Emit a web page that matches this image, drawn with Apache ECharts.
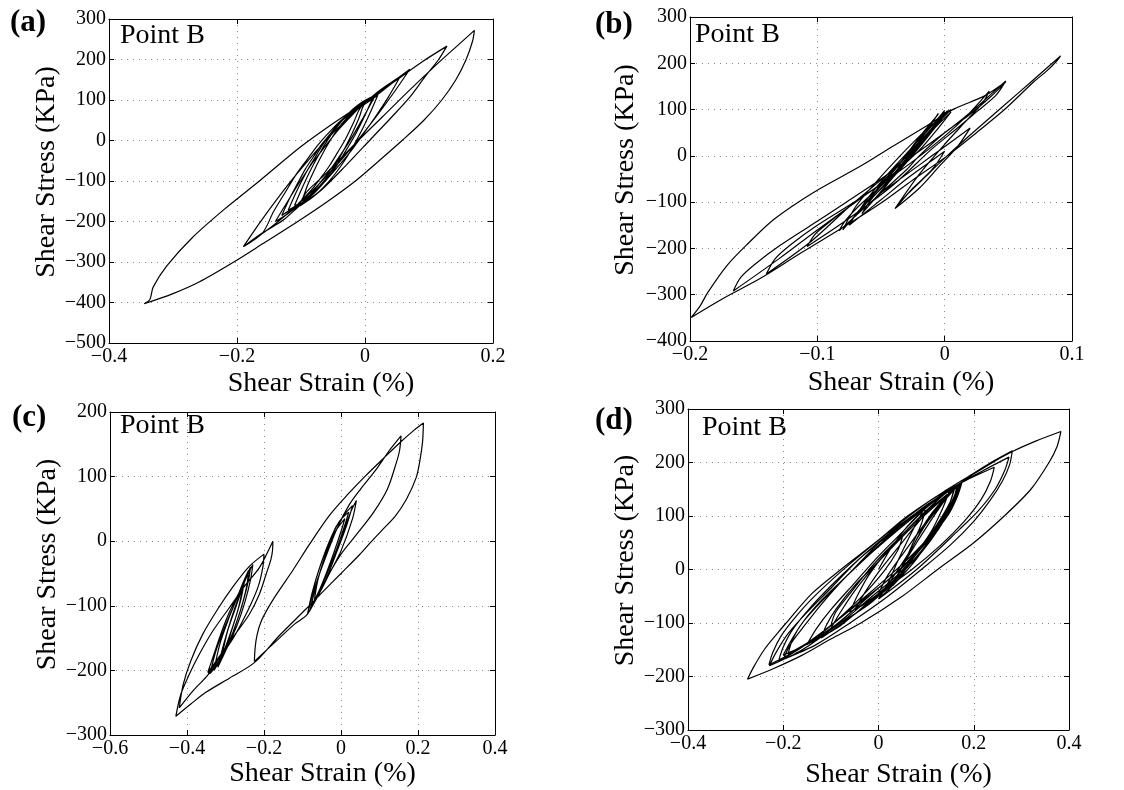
<!DOCTYPE html>
<html>
<head>
<meta charset="utf-8">
<script src="https://cdn.jsdelivr.net/npm/echarts@6/dist/echarts.min.js"></script>
<style>
html,body{margin:0;padding:0;background:#fff;}
#chart{width:1124px;height:790px;}
</style>
</head>
<body>
<div id="chart"></div>
<script>
// ---------------- data ----------------
const panelLabels = ['(a)', '(b)', '(c)', '(d)'];
const pointLabel = 'Point B';
const xTitle = 'Shear Strain (%)';
const yTitle = 'Shear Stress (KPa)';
const xLimits = [[-0.4, 0.2], [-0.2, 0.1], [-0.6, 0.4], [-0.4, 0.4]];
const xSteps = [0.2, 0.1, 0.2, 0.2];
const yLimits = [[-500, 300], [-400, 300], [-300, 200], [-300, 300]];
const ySteps = [100, 100, 100, 100];

// shear strain (%), shear stress (kPa) pairs read from the loops
const loopA = [
[-0.12,-172],
[-0.107,-126],[-0.094,-85],[-0.08,-47],[-0.067,-13],[-0.054,17],[-0.041,42],[-0.028,64],[-0.014,82],[-0.001,95],[0.012,105],
[-0.001,59],[-0.014,18],[-0.028,-20],[-0.041,-54],[-0.054,-84],[-0.067,-109],[-0.08,-131],[-0.094,-149],[-0.107,-162],[-0.12,-172],
[-0.1,-150],
[-0.09,-111],[-0.08,-76],[-0.07,-44],[-0.06,-15],[-0.05,11],[-0.04,34],[-0.03,53],[-0.02,69],[-0.01,82],[0.0,92],
[0.015,108],
[-0.003,56],[-0.02,9],[-0.038,-35],[-0.055,-74],[-0.073,-110],[-0.09,-142],[-0.108,-169],[-0.125,-193],[-0.143,-212],[-0.16,-228],
[-0.19,-262],
[-0.164,-202],[-0.138,-146],[-0.112,-93],[-0.086,-44],[-0.06,2],[-0.034,44],[-0.008,82],[0.018,117],[0.044,146],[0.07,176],
[0.044,116],[0.018,60],[-0.008,7],[-0.034,-42],[-0.06,-88],[-0.086,-130],[-0.112,-168],[-0.138,-203],[-0.164,-234],[-0.19,-262],
[-0.16,-228],
[-0.143,-176],[-0.125,-129],[-0.108,-85],[-0.09,-46],[-0.073,-10],[-0.055,22],[-0.038,49],[-0.02,73],[-0.003,92],[0.015,108],
[0.055,158],
[0.036,106],[0.016,58],[-0.004,13],[-0.023,-28],[-0.043,-66],[-0.062,-100],[-0.082,-130],[-0.101,-157],[-0.12,-180],[-0.14,-200],
[-0.12,-148],[-0.101,-100],[-0.082,-55],[-0.062,-14],[-0.043,24],[-0.023,58],[-0.004,88],[0.016,115],[0.036,138],[0.055,158],
[-0.005,85],
[-0.018,44],[-0.03,5],[-0.043,-30],[-0.055,-61],[-0.068,-90],[-0.08,-115],[-0.093,-138],[-0.105,-157],[-0.118,-172],[-0.13,-185],
[-0.118,-144],[-0.105,-105],[-0.093,-70],[-0.08,-39],[-0.068,-10],[-0.055,15],[-0.043,38],[-0.03,57],[-0.018,72],[-0.005,85],
[0.02,112],
[0.007,65],[-0.006,22],[-0.019,-16],[-0.032,-50],[-0.045,-79],[-0.058,-104],[-0.071,-125],[-0.084,-141],[-0.097,-153],[-0.11,-160],
[-0.097,-113],[-0.084,-70],[-0.071,-32],[-0.058,2],[-0.045,31],[-0.032,56],[-0.019,77],[-0.006,93],[0.007,105],[0.02,112],
[0.0,92],
[-0.01,53],[-0.02,18],[-0.03,-14],[-0.04,-43],[-0.05,-69],[-0.06,-92],[-0.07,-111],[-0.08,-127],[-0.09,-140],[-0.1,-150],
[-0.09,-125],[-0.06,-80],[-0.02,-15],[0.027,58],[0.07,125],[0.11,185],[0.145,235],[0.171,272],
[0.168,245],[0.158,200],[0.142,150],[0.12,100],[0.092,50],[0.058,0],[0.022,-50],[-0.015,-100],[-0.058,-150],[-0.105,-200],[-0.155,-250],[-0.205,-300],[-0.26,-350],[-0.3,-378],[-0.345,-403],
[-0.336,-392],[-0.331,-362],[-0.31,-310],[-0.27,-240],[-0.22,-170],[-0.165,-100],[-0.1,-15],[-0.05,42],[0.0,95],[0.05,150],[0.09,195],[0.128,233],
[0.115,200],[0.095,160],[0.069,105],[0.04,55],[0.01,5],[-0.03,-62],[-0.07,-125],[-0.1,-160],[-0.12,-172]
];

const loopB = [
[-0.04,-40],
[-0.03,-10],[-0.02,25],[-0.008,65],[0.002,97],
[-0.005,75],[-0.02,30],[-0.04,-30],[-0.06,-95],[-0.08,-160],
[-0.07,-110],[-0.055,-60],[-0.035,0],[-0.015,55],[0.005,100],
[-0.005,72],[-0.02,25],[-0.04,-38],[-0.07,-100],[-0.1,-160],[-0.13,-222],[-0.166,-292],
[-0.16,-262],[-0.148,-232],[-0.13,-195],[-0.105,-150],[-0.08,-105],[-0.05,-50],[-0.02,10],[0.005,60],[0.025,105],[0.048,162],
[0.04,130],[0.025,95],[0.01,60],[-0.01,15],[-0.04,-62],[-0.075,-135],[-0.108,-196],
[-0.102,-170],[-0.09,-142],[-0.07,-100],[-0.045,-50],[-0.02,12],[-0.005,60],[0.005,95],
[-0.005,68],[-0.02,25],[-0.045,-40],[-0.075,-110],[-0.105,-185],[-0.14,-255],
[-0.133,-222],[-0.12,-190],[-0.1,-150],[-0.07,-98],[-0.04,-42],[-0.01,20],[0.015,80],[0.035,140],
[0.03,115],[0.015,70],[0.0,25],[-0.02,-40],[-0.039,-114],
[-0.03,-85],[-0.015,-45],[0.0,-5],[0.02,45],[0.045,105],[0.07,165],[0.091,216],
[0.088,205],[0.08,183],[0.07,160],[0.047,100],[0.025,50],[0.002,0],[-0.025,-52],[-0.05,-102],[-0.08,-155],[-0.113,-210],[-0.145,-265],[-0.174,-308],[-0.199,-349],
[-0.192,-324],[-0.186,-295],[-0.171,-237],[-0.155,-191],[-0.134,-137],[-0.103,-79],[-0.066,-22],[-0.04,22],[-0.014,65],[0.007,101],[0.031,129],[0.048,160],
[0.035,125],[0.02,90],[0.0,50],[-0.02,0],[-0.03,-30],[-0.05,-80],[-0.083,-162],
[-0.078,-140],[-0.068,-110],[-0.05,-65],[-0.03,-10],[-0.012,50],[0.0,95],
[-0.01,60],[-0.025,10],[-0.04,-40],[-0.06,-100],
[-0.05,-60],[-0.035,-15],[-0.02,40],[-0.005,90],
[-0.015,55],[-0.03,0],[-0.05,-65],[-0.07,-130],
[-0.06,-90],[-0.045,-40],[-0.025,20],[-0.01,65],[0.0,98],
[-0.01,60],[-0.025,10],[-0.05,-80],
[-0.03,-40],[-0.01,0],[0.005,30],[0.02,60],
[0.01,20],[-0.005,-25],[-0.02,-70],[-0.039,-114],
[-0.025,-70],[-0.01,-30],[0.0,10],
[-0.01,-10],[-0.03,-50],[-0.05,-95],[-0.075,-150],
[-0.068,-120],[-0.055,-85],[-0.035,-30],[-0.015,35],[0.003,98],
[-0.008,65],[-0.02,20],[-0.04,-45],[-0.065,-125],
[-0.058,-95],[-0.045,-55],[-0.03,-5],[-0.015,50],[-0.005,92]
];

const loopC = [
[0.0,0],
[0.01,20],[0.025,45],[0.04,63],
[0.03,35],[0.0,-15],[-0.03,-50],[-0.06,-85],[-0.087,-113],
[-0.075,-80],[-0.055,-40],[-0.03,0],[-0.005,30],[0.02,45],
[0.01,25],[-0.01,-10],[-0.04,-55],[-0.08,-105],
[-0.065,-70],[-0.045,-30],[-0.02,10],[0.01,35],
[0.0,15],[-0.02,-20],[-0.045,-60],[-0.07,-95],
[-0.06,-60],[-0.04,-20],[-0.015,20],[0.01,42],[0.03,55],
[0.015,25],[-0.01,-15],[-0.04,-60],[-0.087,-113],
[-0.07,-75],[-0.04,-25],[-0.01,20],[0.02,55],[0.05,80],[0.09,110],[0.125,140],[0.156,163],
[0.152,140],[0.143,120],[0.12,80],[0.085,45],[0.04,10],[0.0,-20],[-0.04,-60],[-0.087,-113],
[-0.12,-128],[-0.16,-150],[-0.225,-186],
[-0.223,-165],[-0.218,-145],[-0.208,-125],[-0.19,-104],[-0.165,-80],[-0.125,-45],[-0.082,-5],[-0.03,40],[0.02,74],[0.065,102],[0.11,128],[0.152,152],[0.19,172],[0.214,183],
[0.212,155],[0.205,125],[0.195,98],[0.17,65],[0.14,38],[0.108,18],[0.075,-3],[0.048,-21],[0.0,-50],[-0.05,-80],[-0.091,-105],[-0.16,-146],[-0.225,-188],[-0.29,-212],[-0.351,-234],[-0.39,-252],[-0.429,-271],
[-0.416,-237],[-0.394,-206],[-0.368,-175],[-0.333,-139],[-0.29,-103],[-0.247,-67],[-0.212,-41],[-0.177,0],
[-0.178,-15],[-0.182,-28],[-0.195,-52],[-0.212,-82],[-0.238,-113],[-0.281,-149],[-0.325,-186],[-0.346,-203],
[-0.33,-175],[-0.31,-140],[-0.29,-110],[-0.265,-80],[-0.245,-55],[-0.229,-36],
[-0.235,-60],[-0.25,-95],[-0.27,-130],[-0.3,-170],[-0.33,-200],
[-0.315,-160],[-0.295,-125],[-0.275,-95],[-0.255,-65],[-0.24,-45],
[-0.245,-70],[-0.26,-105],[-0.28,-140],[-0.3,-170],[-0.32,-195],
[-0.305,-160],[-0.285,-120],[-0.265,-85],[-0.245,-55],[-0.235,-40],
[-0.24,-60],[-0.255,-95],[-0.28,-140],[-0.31,-180],[-0.34,-205],
[-0.325,-170],[-0.3,-130],[-0.275,-95],[-0.25,-60],
[-0.26,-90],[-0.28,-130],[-0.31,-180],
[-0.295,-140],[-0.275,-105],[-0.255,-70],
[-0.265,-100],[-0.285,-140],[-0.305,-175],
[-0.35,-210],[-0.385,-232],[-0.42,-258],
[-0.41,-222],[-0.39,-185],[-0.36,-145],[-0.32,-105],[-0.28,-70],[-0.24,-40],[-0.2,-20],
[-0.203,-40],[-0.215,-70],[-0.24,-105],[-0.28,-150],[-0.345,-205]
];

const loopD = [
[0.0,0],
[0.03,45],[0.07,90],[0.12,130],[0.17,160],
[0.155,125],[0.13,85],[0.09,35],[0.04,-15],[-0.02,-65],[-0.1,-110],
[-0.08,-80],[-0.05,-40],[0.0,15],[0.05,65],[0.1,110],[0.15,150],
[0.135,115],[0.11,70],[0.07,20],[0.02,-35],[-0.05,-75],
[-0.03,-45],[0.0,-5],[0.04,40],[0.09,95],[0.13,135],[0.17,158],
[0.16,130],[0.14,95],[0.1,45],[0.05,-5],[-0.02,-60],[-0.08,-105],[-0.15,-140],
[-0.13,-110],[-0.1,-75],[-0.05,-25],[0.0,25],[0.05,70],[0.1,115],[0.16,155],
[0.15,125],[0.12,80],[0.08,30],[0.04,-20],[0.0,-55],
[0.02,-25],[0.04,15],[0.07,70],[0.1,120],
[0.09,85],[0.07,45],[0.05,5],[0.02,-40],
[0.04,-10],[0.07,40],[0.1,85],[0.135,125],[0.17,160],
[0.15,120],[0.12,75],[0.08,20],[0.03,-30],
[0.05,5],[0.08,50],[0.12,105],[0.16,155],
[0.15,125],[0.13,90],[0.09,40],[0.04,-10],[-0.02,-55],[-0.08,-100],[-0.14,-135],[-0.2,-160],
[-0.185,-135],[-0.16,-100],[-0.12,-60],[-0.07,-15],[-0.01,40],[0.05,90],[0.11,130],[0.17,160],
[0.16,135],[0.14,100],[0.1,55],[0.05,5],[-0.02,-50],[-0.09,-105],[-0.16,-150],[-0.229,-180],
[-0.215,-155],[-0.19,-120],[-0.15,-80],[-0.1,-35],[-0.04,20],[0.03,70],[0.1,120],[0.17,160],[0.243,191],
[0.235,165],[0.215,130],[0.18,90],[0.13,45],[0.07,0],[0.0,-45],
[0.02,-10],[0.06,40],[0.11,100],[0.17,160],
[0.23,195],[0.28,220],[0.33,240],[0.383,258],
[0.375,230],[0.358,200],[0.32,150],[0.264,100],[0.2,50],[0.124,0],[0.05,-50],[-0.037,-100],[-0.1,-130],[-0.16,-160],[-0.22,-185],[-0.275,-205],
[-0.262,-182],[-0.24,-150],[-0.212,-119],[-0.194,-100],[-0.14,-45],[-0.079,0],[0.0,55],[0.061,100],[0.145,150],[0.2,180],[0.236,200],[0.281,222],
[0.275,195],[0.26,165],[0.235,130],[0.2,90],[0.15,45],[0.09,0],[0.02,-50],[-0.06,-100],[-0.13,-140],[-0.2,-168],
[-0.185,-140],[-0.16,-110],[-0.12,-65],[-0.07,-15],[0.0,45],[0.08,105],[0.16,155],[0.22,185],[0.274,210],
[0.265,185],[0.245,150],[0.21,110],[0.17,75],[0.08,0],[0.0,-55],
[0.03,-15],[0.07,40],[0.1,90],
[0.13,125],[0.17,160],
[0.16,135],[0.14,100],[0.1,55],[0.05,10],[-0.02,-45],[-0.1,-105],[-0.16,-145],[-0.21,-172],
[-0.2,-145],[-0.18,-112],[-0.14,-68],[-0.09,-22],[-0.03,28],[0.04,80],[0.11,125],[0.172,160],
[0.16,130],[0.135,90],[0.1,50],[0.05,5],[-0.02,-50],[-0.1,-110],[-0.19,-158],
[-0.18,-130],[-0.16,-100],[-0.12,-58],[-0.07,-15],[-0.01,35],[0.06,88],[0.12,130],[0.165,157],
[0.155,125],[0.13,85],[0.09,35],[0.04,-15],[-0.03,-70],[-0.12,-128],
[-0.11,-105],[-0.09,-75],[-0.05,-30],[0.0,15],[0.06,70],[0.12,120],[0.16,152],
[0.15,125],[0.12,80],[0.08,30],[0.03,-25],[-0.06,-80],
[-0.045,-50],[-0.02,-10],[0.015,30],[0.05,60],
[0.04,35],[0.01,-5],[-0.04,-55],[-0.1,-105],
[-0.09,-80],[-0.06,-45],[-0.01,10],[0.05,65],[0.11,115],[0.175,162],
[0.165,135],[0.145,100],[0.1,50],[0.04,-5],[-0.04,-62],[-0.12,-118],[-0.18,-155],[-0.23,-178],
[-0.222,-155],[-0.205,-125],[-0.18,-95],[-0.14,-55],[-0.08,-5],[-0.02,40],[0.05,90],[0.11,130],[0.17,160],
[0.16,130],[0.14,95],[0.11,55],[0.07,10]
];

const loops = [loopA, loopB, loopC, loopD];

// ---------------- layout ----------------
const FONT = '"Liberation Serif", "DejaVu Serif", serif';
const grids = [
  {left: 109, top: 19, width: 384, height: 324},
  {left: 690, top: 17, width: 382, height: 324},
  {left: 110, top: 412, width: 385, height: 323},
  {left: 688, top: 409, width: 381, height: 322}
];
const xNameGaps = [27, 28, 22, 31];
const yNameGaps = [46, 50, 47, 48];
const labelPos = [[10, 7], [595, 9], [12, 402], [595, 405]];
const pointPos = [[120, 22], [695, 21], [120, 412], [702, 414]];

function fmt(v) {
  const r = Math.round(v * 1000) / 1000;
  return r < 0 ? '\u2212' + String(-r) : String(r);
}

const xAxes = [], yAxes = [], series = [], graphics = [];
grids.forEach((g, i) => {
  const common = {
    gridIndex: i, type: 'value',
    axisLine: {show: true, onZero: false, lineStyle: {color: '#000', width: 1}},
    axisTick: {show: true, inside: true, length: 5, lineStyle: {color: '#000', width: 1}}
  };
  xAxes.push(Object.assign({}, common, {
    position: 'bottom', min: xLimits[i][0], max: xLimits[i][1], interval: xSteps[i],
    axisLabel: {color: '#000', fontFamily: FONT, fontSize: 20, margin: 4, formatter: fmt, showMinLabel: true, showMaxLabel: true},
    splitLine: {show: true, lineStyle: {color: '#8a8a8a', type: [1, 5], width: 1}},
    name: xTitle, nameLocation: 'middle', nameGap: xNameGaps[i],
    nameTextStyle: {fontFamily: FONT, fontSize: 28, color: '#000', padding: [0, 0, 0, 40]}
  }));
  xAxes.push(Object.assign({}, common, {
    position: 'top', min: xLimits[i][0], max: xLimits[i][1], interval: xSteps[i],
    axisLabel: {show: false}, splitLine: {show: false}
  }));
  yAxes.push(Object.assign({}, common, {
    position: 'left', min: yLimits[i][0], max: yLimits[i][1], interval: ySteps[i],
    axisLabel: {color: '#000', fontFamily: FONT, fontSize: 20, margin: 3, formatter: fmt, showMinLabel: true, showMaxLabel: true},
    splitLine: {show: true, lineStyle: {color: '#8a8a8a', type: [1, 5], width: 1}},
    name: yTitle, nameLocation: 'middle', nameGap: yNameGaps[i], nameRotate: 90,
    nameTextStyle: {fontFamily: FONT, fontSize: 28, color: '#000', padding: [0, 0, 0, 18]}
  }));
  yAxes.push(Object.assign({}, common, {
    position: 'right', min: yLimits[i][0], max: yLimits[i][1], interval: ySteps[i],
    axisLabel: {show: false}, splitLine: {show: false}
  }));
  series.push({
    type: 'line', xAxisIndex: 2 * i, yAxisIndex: 2 * i,
    data: loops[i], showSymbol: false, symbol: 'none', smooth: 0.3,
    lineStyle: {color: '#000', width: 1.2}, clip: true, animation: false
  });
  graphics.push({
    type: 'text', left: labelPos[i][0], top: labelPos[i][1],
    style: {text: panelLabels[i], font: 'bold 31px ' + FONT, fill: '#000'}
  });
  graphics.push({
    type: 'text', left: pointPos[i][0], top: pointPos[i][1],
    style: {text: pointLabel, font: '28px ' + FONT, fill: '#000'}
  });
});

const chart = echarts.init(document.getElementById('chart'), null, {renderer: 'canvas'});
chart.setOption({
  animation: false,
  backgroundColor: '#fff',
  grid: grids.map(g => Object.assign({show: false}, g)),
  xAxis: xAxes,
  yAxis: yAxes,
  series: series,
  graphic: graphics
});
</script>
</body>
</html>
